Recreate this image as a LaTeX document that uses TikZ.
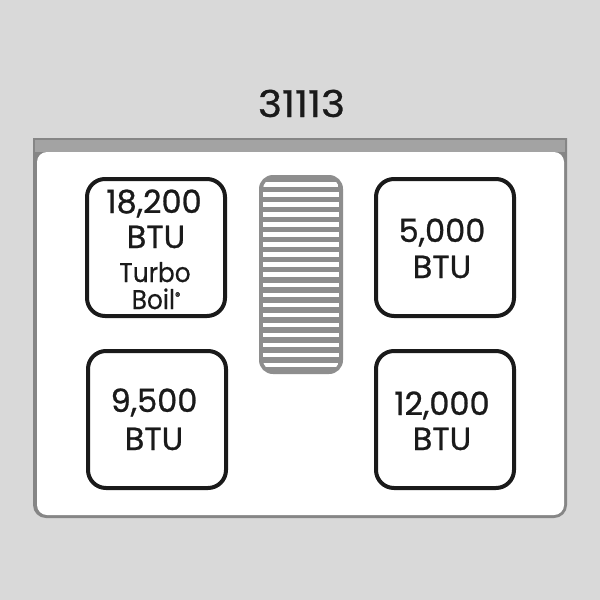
\documentclass[tikz,border=0pt]{standalone}
\usepackage{fontspec}
\setmainfont{Poppins}[FakeBold=0.8]
\newfontfamily\titlefont{Poppins}[FakeStretch=1.1, FakeBold=0.8]
\newfontfamily\turbofont{Poppins}[FakeStretch=0.92, FakeBold=0.4]
\definecolor{bg}{HTML}{D9D9D9}
\definecolor{rim}{HTML}{A3A3A3}
\definecolor{rimdark}{HTML}{868686}
\definecolor{grill}{HTML}{8E8E8E}
\definecolor{ink}{HTML}{1A1A1A}
\tikzset{
  burner/.style={draw=ink, line width=4pt, rounded corners=18pt, minimum width=138pt, minimum height=137pt, inner sep=0pt},
  btu/.style={anchor=base, inner sep=0pt, text=ink, font=\fontsize{32}{32}\selectfont},
  turbo/.style={anchor=base, inner sep=0pt, text=ink, font=\turbofont\fontsize{27}{27}\selectfont},
  title/.style={anchor=base, inner sep=0pt, text=ink, font=\titlefont\fontsize{37}{37}\selectfont}
}
\begin{document}
\begin{tikzpicture}[x=1pt,y=-1pt]
\useasboundingbox (0,0) rectangle (600,600);
\fill[bg] (0,0) rectangle (600,600);
% title
\node[title] (t) at (301.5,117) {31113};
% range body
\fill[rimdark] (33,138) -- (567,138) {[rounded corners=13pt] -- (567,518) -- (33,518)} -- cycle;
\fill[rim] (35,140) -- (565,140) -- (565,152) -- (35,152) -- cycle;
\fill[white, rounded corners=10pt] (37,152) rectangle (564,515);
% griddle
\fill[grill, rounded corners=14pt] (259,175) rectangle (343,374);
\begin{scope}
\clip[rounded corners=10pt] (263,179) rectangle (339,370);
\foreach \i in {0,...,18}{
  \fill[white] (263,{182+10.05*\i}) rectangle (339,{186.5+10.05*\i});
}
\end{scope}
% burners
\node[burner] (b1) at (156,247.5) {};
\node[burner] (b2) at (445,247.5) {};
\node[burner] (b3) at (157,419.5) {};
\node[burner] (b4) at (445,419.5) {};
% labels
\node[btu] (l1a) at (154,213) {18,200};
\node[btu] (l1b) at (156,248) {BTU};
\node[turbo] (l1c) at (155,282) {Turbo};
\node[turbo] (l1d) at (156,309) {Boil\raisebox{9pt}{\fontsize{11}{11}\selectfont ®}};
\node[btu] (l2a) at (442,242) {5,000};
\node[btu] (l2b) at (442,278) {BTU};
\node[btu] (l3a) at (154,412) {9,500};
\node[btu] (l3b) at (154,450) {BTU};
\node[btu] (l4a) at (442,415) {12,000};
\node[btu] (l4b) at (442,450) {BTU};
\end{tikzpicture}
\end{document}
